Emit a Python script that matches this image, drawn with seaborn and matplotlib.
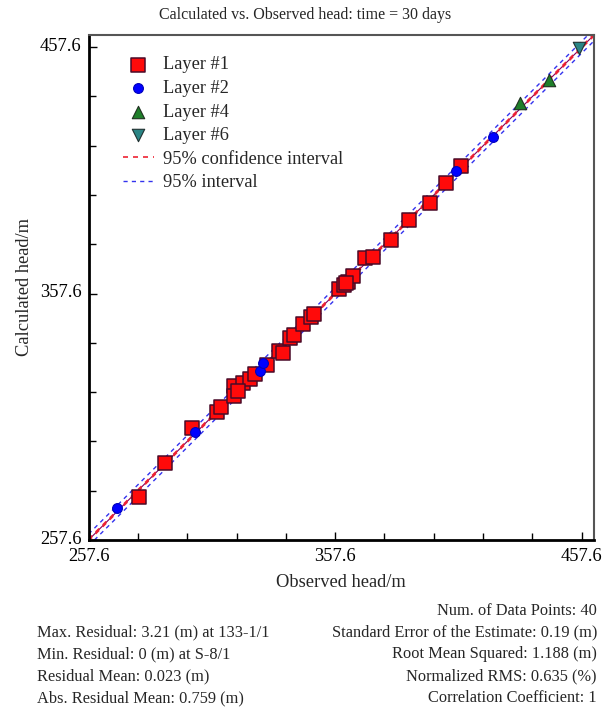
import numpy as np
import pandas as pd
import matplotlib
matplotlib.use("Agg")
import matplotlib.pyplot as plt
import matplotlib.transforms as mtransforms
from matplotlib.ticker import FixedLocator
import seaborn as sns

# ---------------- data ----------------
layer1_obs = [278.1, 288.6, 299.7, 309.6, 311.2, 316.7, 316.7, 320.2, 323.1, 325.1,
              329.9, 334.9, 336.6, 339.3, 341.1, 344.7, 347.7, 359.3, 361.0, 363.0,
              365.0, 369.8, 373.1, 380.3, 387.6, 395.9, 402.4, 408.7, 318.3, 349.1, 362.1]
layer1_calc = [275.2, 289.0, 302.9, 309.6, 311.4, 320.1, 316.0, 321.2, 322.8, 324.8,
               328.6, 334.4, 333.3, 339.4, 340.8, 345.2, 348.0, 359.3, 361.1, 362.4,
               364.7, 371.9, 372.5, 379.3, 387.4, 394.4, 402.5, 409.3, 318.0, 349.3, 361.7]
layer2_obs = [269.0, 300.8, 327.2, 328.5, 406.7, 421.6]
layer2_calc = [270.5, 301.5, 326.3, 329.5, 407.4, 421.0]
layer4_obs = [432.4, 444.1]
layer4_calc = [434.8, 444.2]
layer6_obs = [456.3]
layer6_calc = [457.1]

layer_names = ["Layer #1", "Layer #2", "Layer #4", "Layer #6"]
conf_offset = 0.35
pred_offset = 2.4
axis_lims = [257.6, 462.6]
tick_labels = ["257.6", "357.6", "457.6"]

title = "Calculated vs. Observed head: time = 30 days"
xlabel = "Observed head/m"
ylabel = "Calculated head/m"
left_stats = ["Max. Residual: 3.21 (m) at 133-1/1",
              "Min. Residual: 0 (m) at S-8/1",
              "Residual Mean: 0.023 (m)",
              "Abs. Residual Mean: 0.759 (m)"]
right_stats = ["Num. of Data Points: 40",
               "Standard Error of the Estimate: 0.19 (m)",
               "Root Mean Squared: 1.188 (m)",
               "Normalized RMS: 0.635 (%)",
               "Correlation Coefficient: 1"]

df = pd.concat([
    pd.DataFrame({"obs": layer1_obs, "calc": layer1_calc, "layer": layer_names[0]}),
    pd.DataFrame({"obs": layer2_obs, "calc": layer2_calc, "layer": layer_names[1]}),
    pd.DataFrame({"obs": layer4_obs, "calc": layer4_calc, "layer": layer_names[2]}),
    pd.DataFrame({"obs": layer6_obs, "calc": layer6_calc, "layer": layer_names[3]}),
], ignore_index=True)

# ---------------- style ----------------
sns.set_theme(style="white")
plt.rcParams["font.family"] = ["Liberation Serif", "DejaVu Serif"]

styles = {
    "Layer #1": dict(marker="s", color="#ff0a0a", edgecolor="#4a0a28", s=110, lw=1.1),
    "Layer #2": dict(marker="o", color="#0000ff", edgecolor="#0000bb", s=50, lw=0.8),
    "Layer #4": dict(marker="^", color="#1f7f2a", edgecolor="#203020", s=80, lw=0.8),
    "Layer #6": dict(marker="v", color="#2a8585", edgecolor="#203030", s=80, lw=0.8),
}

fig = plt.figure(figsize=(6.03, 7.11), dpi=100)
ax = fig.add_axes([0.1468, 0.2405, 0.8385, 0.7105])

lims = np.array(axis_lims)
# interval lines
ax.plot(lims, lims - pred_offset, color="#3333ee", ls=(0, (3, 3)), lw=1.0, zorder=1)
ax.plot(lims, lims + pred_offset, color="#3333ee", ls=(0, (3, 3)), lw=1.0, zorder=1,
        label="95% interval")
ax.plot(lims, lims, color="#800060", lw=0.8, zorder=1)
ax.plot(lims, lims - conf_offset, color="#ee2233", ls=(0, (3, 3)), lw=1.2, zorder=2)
ax.plot(lims, lims + conf_offset, color="#ee2233", ls=(0, (3, 3)), lw=1.2, zorder=2,
        label="95% confidence interval")

for name in layer_names:
    st = styles[name]
    sub = df[df["layer"] == name]
    sns.scatterplot(data=sub, x="obs", y="calc", ax=ax, marker=st["marker"],
                    color=st["color"], edgecolor=st["edgecolor"], s=st["s"],
                    linewidth=st["lw"], label=name, zorder=3)

ax.set_xlim(*axis_lims)
ax.set_ylim(*axis_lims)

major = [float(t) for t in tick_labels]
for axis in (ax.xaxis, ax.yaxis):
    axis.set_major_locator(FixedLocator(major))
    axis.set_minor_locator(FixedLocator(np.arange(277.6, 458, 20)))
ax.set_xticklabels(tick_labels)
ax.set_yticklabels(tick_labels)
ax.tick_params(which="both", direction="in", top=False, right=False,
               bottom=True, left=True, labelsize=13.3, colors="black")
ax.tick_params(axis="x", which="both", pad=6)
ax.tick_params(axis="y", which="both", pad=5)
ax.tick_params(which="major", length=6, width=1.0)
ax.tick_params(which="minor", length=5, width=1.0)
# nudge y tick labels slightly upward, as in the reference
shift = mtransforms.ScaledTranslation(0, 3 / 100, fig.dpi_scale_trans)
for lbl in ax.get_yticklabels():
    lbl.set_transform(lbl.get_transform() + shift)

for side in ("left", "bottom"):
    ax.spines[side].set_color("black")
    ax.spines[side].set_linewidth(2.0)
for side in ("top", "right"):
    ax.spines[side].set_color("#555555")
    ax.spines[side].set_linewidth(1.5)

ax.set_xlabel(xlabel, fontsize=13.3, labelpad=6)
ax.set_ylabel(ylabel, fontsize=13.3, labelpad=5)
fig.text(0.506, 0.979, title, ha="center", va="center", fontsize=11.5)

# legend
handles, labels = ax.get_legend_handles_labels()
order = layer_names + ["95% confidence interval", "95% interval"]
hmap = dict(zip(labels, handles))
ax.legend([hmap[o] for o in order], order, loc="upper left",
          bbox_to_anchor=(0.035, 0.99), frameon=False, fontsize=13.2,
          handlelength=1.7, handletextpad=0.5, labelspacing=0.36)

# statistics text
ys_right = [611, 632, 654, 676, 698]
for y, s in zip(ys_right, right_stats):
    fig.text(597 / 603, 1 - y / 711, s, ha="right", va="center", fontsize=11.8)
for y, s in zip(ys_right[1:], left_stats):
    fig.text(37 / 603, 1 - y / 711, s, ha="left", va="center", fontsize=11.8)

fig.savefig("out.png", dpi=100)
